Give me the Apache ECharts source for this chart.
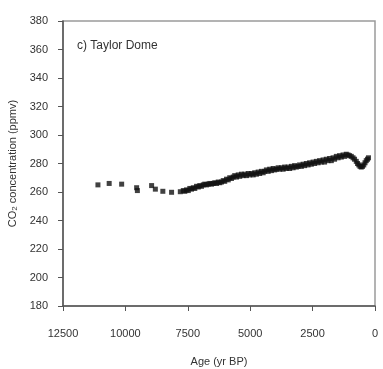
<!DOCTYPE html>
<html><head><meta charset="utf-8">
<script src="https://cdn.jsdelivr.net/npm/echarts@6/dist/echarts.min.js"></script>
<style>html,body{margin:0;padding:0;background:#fff}#c{width:383px;height:369px}</style>
</head><body><div id="c"></div>
<script>
const yTicks = [180, 200, 220, 240, 260, 280, 300, 320, 340, 360, 380];
const xTicks = [12500, 10000, 7500, 5000, 2500, 0];
const panelLabel = 'c) Taylor Dome';
const ages = [11100,10650,10150,9550,9520,8950,8800,8500,8150,7800,7680,7620,
7550,7480,7420,7350,7280,7220,7150,7080,7020,6950,6880,6820,6750,6680,6620,6550,6480,6420,6350,6280,6220,6150,6080,6020,
5950,5880,5820,5750,5680,5620,5550,5480,5420,5350,5280,5220,5150,5080,5020,4950,4880,4820,4750,4680,4620,4550,4480,4420,
4350,4280,4220,4150,4080,4020,3950,3880,3820,3750,3680,3620,3550,3480,3420,3350,3280,3220,3150,3080,3020,2950,2880,2820,
2750,2680,2620,2550,2480,2420,2350,2280,2220,2150,2080,2020,1950,1880,1820,1750,1680,1620,1550,1480,1420,1350,1280,1220,
1150,1080,1020,950,880,820,750,700,650,600,550,500,450,400,350,300,260];
const co2 = [265,266,265.5,263,261,264.5,262,260.5,259.8,260.2,261,260.5,
261.5,261,262.5,262,263,262.5,264,263.5,264.5,264,265,265.5,265,265.5,266,265.5,266,266.5,266,267,266.5,267,268,267.5,
269,268.5,270,269.5,270.5,271.5,270.5,272,271,272.5,271.5,272.5,271.5,273,272,273,272,273.5,272.5,274,273,274.5,273.5,274.5,
275.5,274.5,276,275,276.5,275.5,276,277,276,277,276,277.5,276.5,277.5,276.5,278,277,278.5,277.5,278,279,278,279.5,278.5,
280,279,280.5,279.5,281,280,281.5,280.5,282,281,282.5,281,283,282,283.5,282,284,283,285,284,285.5,284.5,286,285,
286.5,286,285.5,285,284,283,281.5,280,279,278,277.5,278,279,280.5,282,283,284];

const font = 'Liberation Sans, Arial, sans-serif';
const chart = echarts.init(document.getElementById('c'), null, {renderer: 'canvas'});
chart.setOption({
  animation: false,
  backgroundColor: '#fff',
  grid: {left: 63, right: 8, top: 21, bottom: 63, show: true, borderColor: '#9a9a9a', borderWidth: 1.5,
         containLabel: false, outerBoundsMode: 'none'},
  xAxis: {
    type: 'value', inverse: true, min: xTicks[xTicks.length-1], max: xTicks[0], interval: 2500,
    name: 'Age (yr BP)', nameLocation: 'middle', nameGap: 50,
    nameTextStyle: {fontFamily: font, fontSize: 11, color: '#333'},
    axisLine: {show: true, onZero: false, lineStyle: {color: '#555', width: 1.5}},
    axisTick: {show: true, inside: false, length: 5, lineStyle: {color: '#555'}},
    axisLabel: {margin: 22, fontFamily: font, fontSize: 11, color: '#333', formatter: v => String(v)},
    splitLine: {show: false}
  },
  yAxis: {
    type: 'value', min: yTicks[0], max: yTicks[yTicks.length-1], interval: 20,
    name: 'CO{sub|2} concentration (ppmv)', nameLocation: 'middle', nameGap: 44,
    nameTextStyle: {fontFamily: font, fontSize: 11, color: '#333',
      rich: {sub: {fontFamily: font, fontSize: 8, color: '#333', verticalAlign: 'bottom', padding: [4,0,0,0]}}},
    axisLine: {show: true, onZero: false, lineStyle: {color: '#555', width: 1.5}},
    axisTick: {show: true, inside: false, length: 5, lineStyle: {color: '#555'}},
    axisLabel: {margin: 15, fontFamily: font, fontSize: 11, color: '#333', formatter: v => String(v)},
    splitLine: {show: false}
  },
  graphic: [{type: 'text', left: 77, top: 40, style: {text: panelLabel, font: '12px ' + font, fill: '#333'}}],
  series: [{
    type: 'scatter',
    data: ages.map((a, i) => [a, co2[i]]),
    symbol: 'rect', symbolSize: 5,
    itemStyle: {color: '#111'}
  }]
});
</script></body></html>
